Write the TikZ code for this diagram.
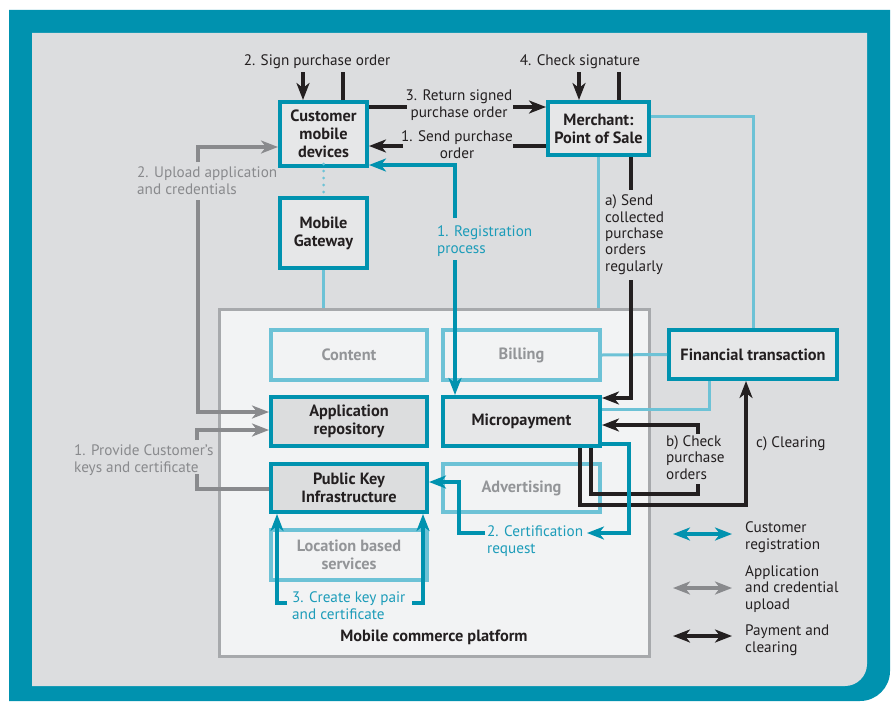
\documentclass[tikz,border=0pt]{standalone}
\usepackage{fontspec}
\setmainfont{PT Sans}
\usetikzlibrary{arrows.meta}
\definecolor{tealD}{HTML}{0092AF}
\definecolor{tealL}{HTML}{6DC2D6}
\definecolor{panel}{HTML}{DCDDDF}
\definecolor{platfill}{HTML}{F2F3F4}
\definecolor{platline}{HTML}{A7A9AC}
\definecolor{nodefill}{HTML}{E6E7E8}
\definecolor{nodefillB}{HTML}{DCDDDE}
\definecolor{grayC}{HTML}{898A8D}
\definecolor{grayT}{HTML}{939598}
\definecolor{ink}{HTML}{231F20}
\definecolor{tealT}{HTML}{1C9CB9}
\begin{document}
\begin{tikzpicture}[x=1pt,y=-1pt,
  arr/.style={-{Stealth[length=17pt,width=13pt,inset=5pt]}},
  darr/.style={{Stealth[length=17pt,width=13pt,inset=5pt]}-{Stealth[length=17pt,width=13pt,inset=5pt]}},
  blk/.style={draw=ink,line width=3.5pt},
  tl/.style={draw=tealD,line width=3.5pt},
  lt/.style={draw=tealL,line width=3pt},
  gr/.style={draw=grayC,line width=3.5pt},
  box/.style={draw=tealD,line width=4pt,fill=nodefill,inner sep=0pt,align=center,font=\bfseries\fontsize{16.3}{18}\selectfont,text=ink},
  lbox/.style={draw=tealL,line width=4pt,fill=platfill,inner sep=0pt,align=center,font=\bfseries\fontsize{16.3}{18}\selectfont,text=grayT},
  lab/.style={font=\fontsize{15.2}{16.3}\selectfont,text=ink,inner sep=0pt,align=left,anchor=base west},
  clab/.style={font=\fontsize{15.2}{16.3}\selectfont,text=ink,inner sep=0pt,align=center,anchor=base},
]
\useasboundingbox (0,0) rectangle (893,701);
% frame and panel
\fill[tealD] (9,10) -- (890,10) -- (890,671) arc[start angle=0,end angle=90,radius=30] -- (9,701) -- cycle;
\fill[panel] (32,33) -- (867,33) -- (867,664) arc[start angle=0,end angle=90,radius=22] -- (32,686) -- cycle;
% platform
\node[draw=platline,line width=3pt,fill=platfill,minimum width=430,minimum height=347,inner sep=0pt] (plat) at (434.5,483) {};
\node[font=\bfseries\fontsize{16.3}{18}\selectfont,text=ink,anchor=base,inner sep=0pt] (platlab) at (434,641) {Mobile commerce platform};
% nodes
\node[box,minimum width=87,minimum height=64] (cust) at (323.5,134) {Customer\\mobile\\devices};
\node[box,minimum width=87,minimum height=70] (gate) at (323.5,233) {Mobile\\Gateway};
\node[box,minimum width=101,minimum height=53] (merch) at (598.5,128.5) {Merchant:\\Point of Sale};
\node[lbox,minimum width=156,minimum height=50] (cont) at (349,355) {Content};
\node[lbox,minimum width=157,minimum height=50] (bill) at (521.5,355) {Billing};
\node[box,fill=nodefillB,minimum width=156,minimum height=49] (app) at (349,421.5) {Application\\repository};
\node[box,minimum width=157,minimum height=49] (micro) at (521.5,421.5) {Micropayment};
\node[box,fill=nodefillB,minimum width=156,minimum height=48] (pki) at (349,488) {Public Key\\Infrastructure};
\node[lbox,minimum width=157,minimum height=48] (adv) at (521.5,488) {Advertising};
\node[lbox,minimum width=156,minimum height=50] (lbs) at (349,555) {Location based\\services};
\node[box,minimum width=168,minimum height=49] (fin) at (753,354.5) {Financial transaction};
% coordinates
\coordinate (s1) at (303,72); \coordinate (s2) at (343,72);
\coordinate (c1) at (579,72); \coordinate (c2) at (619,72);
\coordinate (r1) at (407,107); \coordinate (r2) at (513,107);
\coordinate (p1) at (513,146); \coordinate (p2) at (403,146);
\coordinate (g0) at (455,165); \coordinate (g1) at (455,218); \coordinate (g2) at (455,260);
\coordinate (m1) at (753,116);
\coordinate (f1) at (709,409);
\coordinate (a1) at (631,190); \coordinate (a2) at (631,280); \coordinate (a3) at (631,398);
\coordinate (b0) at (698,425); \coordinate (b1) at (698,434); \coordinate (b2) at (698,484);
\coordinate (b3) at (698,494); \coordinate (b4) at (591,494);
\coordinate (c0) at (580,505); \coordinate (c3) at (746,505);
\coordinate (q0) at (629,444); \coordinate (q1) at (629,533); \coordinate (q2) at (587,533);
\coordinate (q3) at (485,533); \coordinate (q4) at (459,533); \coordinate (q5) at (459,482);
\coordinate (k1) at (277,603); \coordinate (k2) at (287,603); \coordinate (k3) at (412,603); \coordinate (k4) at (423,603);
\coordinate (u0) at (198,147); \coordinate (u1) at (198,162); \coordinate (u2) at (198,200); \coordinate (u3) at (198,412);
\coordinate (v0) at (197,489); \coordinate (v1) at (197,474); \coordinate (v2) at (197,440); \coordinate (v3) at (197,430);
\coordinate (l1a) at (673,534); \coordinate (l1b) at (732,534);
\coordinate (l2a) at (673,588); \coordinate (l2b) at (732,588);
\coordinate (l3a) at (673,636); \coordinate (l3b) at (732,636);
% light teal links
\draw[lt,line cap=round,dash pattern=on 0pt off 7pt] ([yshift=4pt]cust.south) -- (gate.north);
\draw[lt] (gate.south) -- (gate.south |- plat.north);
\draw[lt] (merch.south) -- (merch.south |- plat.north);
\draw[lt] (m1 -| merch.east) -- (m1) -- (fin.north);
\draw[lt] (bill.east) -- (fin.west);
\draw[lt] (f1 |- fin.south) -- (f1) -- (f1 -| micro.east);
% black links
\draw[blk,arr] (s1) -- (s1 |- cust.north);
\draw[blk] (s2 |- cust.north) -- (s2);
\draw[blk,arr] (c1) -- (c1 |- merch.north);
\draw[blk] (c2 |- merch.north) -- (c2);
\draw[blk] (r1 -| cust.east) -- (r1);
\draw[blk,arr] (r2) -- (r2 -| merch.west);
\draw[blk] (p1 -| merch.west) -- (p1);
\draw[blk,arr] (p2) -- (p2 -| cust.east);
\draw[blk] (a1 |- merch.south) -- (a1);
\draw[blk,arr] (a2) -- (a3) -- (a3 -| micro.east);
\draw[blk,arr] (b1) -- (b0) -- (b0 -| micro.east);
\draw[blk] (b2) -- (b3) -- (b4) -- (b4 |- micro.south);
\draw[blk,arr] (c0 |- micro.south) -- (c0) -- (c3) -- (c3 |- fin.south);
% teal links
\draw[tl,arr] (g1) -- (g0) -- (g0 -| cust.east);
\draw[tl,arr] (g2) -- (g2 |- micro.north);
\draw[tl,arr] (q0 -| micro.east) -- (q0) -- (q1) -- (q2);
\draw[tl,arr] (q3) -- (q4) -- (q5) -- (q5 -| pki.east);
\draw[tl,arr] (k2) -- (k1) -- (k1 |- pki.south);
\draw[tl,arr] (k3) -- (k4) -- (k4 |- pki.south);
% gray links
\draw[gr,arr] (u1) -- (u0) -- (u0 -| cust.west);
\draw[gr,arr] (u2) -- (u3) -- (u3 -| app.west);
\draw[gr] (v0 -| pki.west) -- (v0) -- (v1);
\draw[gr,arr] (v2) -- (v3) -- (v3 -| app.west);
% legend
\draw[tl,darr] (l1a) -- (l1b);
\draw[gr,darr] (l2a) -- (l2b);
\draw[blk,darr] (l3a) -- (l3b);
% labels (anchor = baseline of last line)
\node[clab] (t1) at (317,66) {2. Sign purchase order};
\node[clab] (t2) at (580,66) {4. Check signature};
\node[clab] (t3) at (459,117) {3. Return signed\\purchase order};
\node[clab] (t4) at (457,158) {1. Send purchase\\order};
\node[lab,text=tealT] (t5) at (437,253) {1. Registration\\process};
\node[lab] (t6) at (605,271) {a) Send\\collected\\purchase\\orders\\regularly};
\node[lab] (t7) at (666,479) {b) Check\\purchase\\orders};
\node[lab] (t8) at (756,447) {c) Clearing};
\node[lab,text=tealT] (t9) at (487,553) {2. Certification\\request};
\node[lab,text=tealT] (t10) at (292,619) {3. Create key pair\\and certificate};
\node[lab,text=grayC] (t11) at (137,194) {2. Upload application\\and credentials};
\node[lab,text=grayC] (t12) at (74,472) {1. Provide Customer's\\keys and certificate};
\node[lab] (t13) at (745,549) {Customer\\registration};
\node[lab] (t14) at (745,609) {Application\\and credential\\upload};
\node[lab] (t15) at (745,652) {Payment and\\clearing};
\end{tikzpicture}
\end{document}
